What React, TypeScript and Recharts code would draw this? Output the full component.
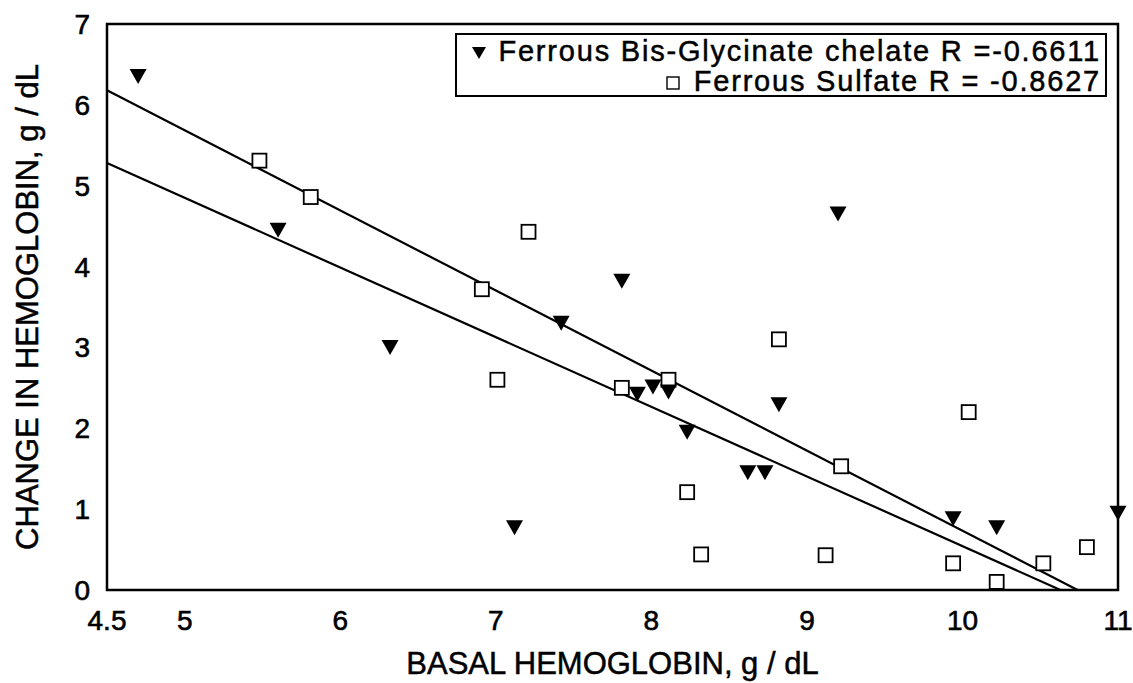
import React from 'react';
import {
  ScatterChart,
  Scatter,
  XAxis,
  YAxis,
  ReferenceLine,
  ReferenceArea,
  Legend
} from 'recharts';

// Ferrous Bis-Glycinate chelate (filled down triangles)
const glycX = [4.7, 5.6, 6.32, 7.12, 7.42, 7.81, 7.91, 8.01, 8.11, 8.23, 8.82, 8.62, 8.73, 9.2, 9.94, 10.22, 11.0];
const glycY = [6.35, 4.45, 3.0, 0.77, 3.3, 3.82, 2.42, 2.51, 2.45, 1.95, 2.29, 1.45, 1.45, 4.65, 0.88, 0.77, 0.95];

// Ferrous Sulfate (open squares)
const sulfX = [5.48, 5.81, 6.91, 7.01, 7.21, 7.81, 8.11, 8.23, 8.32, 8.82, 9.22, 9.12, 10.04, 9.94, 10.22, 10.52, 10.8];
const sulfY = [5.31, 4.86, 3.72, 2.6, 4.43, 2.5, 2.6, 1.21, 0.44, 3.1, 1.53, 0.43, 2.2, 0.33, 0.1, 0.33, 0.53];

// regression line end points
const fitSulfate = [{ x: 4.5, y: 6.18 }, { x: 10.74, y: 0 }];
const fitGlycinate = [{ x: 4.5, y: 5.28 }, { x: 10.63, y: 0 }];

const xTicks = [4.5, 5, 6, 7, 8, 9, 10, 11];
const yTicks = [0, 1, 2, 3, 4, 5, 6, 7];

const legendLabels = [
  'Ferrous Bis-Glycinate chelate R =-0.6611',
  'Ferrous Sulfate R = -0.8627'
];

const FONT = '"Liberation Sans", Arial, sans-serif';

const glycData = glycX.map((x, i) => ({ x, y: glycY[i] }));
const sulfData = sulfX.map((x, i) => ({ x, y: sulfY[i] }));

const DownTriangle = (props: any) => {
  const { cx, cy } = props;
  const w = 8.5;
  const h = 7.5;
  return <polygon points={`${cx - w},${cy - h} ${cx + w},${cy - h} ${cx},${cy + h}`} fill="#000" />;
};

const OpenSquare = (props: any) => {
  const { cx, cy } = props;
  const s = 7;
  return <rect x={cx - s} y={cy - s} width={2 * s} height={2 * s} fill="#fff" stroke="#000" strokeWidth={1.8} />;
};

const LegendBox = () => (
  <div
    style={{
      border: '2px solid #000',
      background: '#fff',
      fontFamily: FONT,
      fontSize: 29,
      letterSpacing: 1.8,
      color: '#000',
      textAlign: 'right',
      padding: '1px 4px 0px 6px',
      lineHeight: '30px',
      boxSizing: 'border-box',
      height: '100%',
      WebkitTextStroke: '0.5px #000'
    }}
  >
    <div>
      <svg width={18} height={18} style={{ marginRight: 10, verticalAlign: 'middle' }}>
        <polygon points="2,3 16,3 9,15" fill="#000" />
      </svg>
      {legendLabels[0]}
    </div>
    <div>
      <svg width={18} height={18} style={{ marginRight: 12, verticalAlign: 'middle' }}>
        <rect x={3} y={3} width={12} height={12} fill="#fff" stroke="#000" strokeWidth={1.4} />
      </svg>
      {legendLabels[1]}
    </div>
  </div>
);

const YTitle = (props: any) => {
  const vb = props.viewBox;
  const cy = vb.y + vb.height / 2;
  return (
    <text
      x={27}
      y={cy}
      transform={`rotate(-90, 27, ${cy})`}
      textAnchor="middle"
      dominantBaseline="central"
      fontFamily={FONT}
      fontSize={31}
      fill="#000"
      stroke="#000"
      strokeWidth={0.5}
    >
      CHANGE IN HEMOGLOBIN, g / dL
    </text>
  );
};

const XTitle = (props: any) => {
  const vb = props.viewBox;
  return (
    <text
      x={vb.x + vb.width / 2}
      y={674}
      textAnchor="middle"
      fontFamily={FONT}
      fontSize={31}
      fill="#000"
      stroke="#000"
      strokeWidth={0.5}
    >
      BASAL HEMOGLOBIN, g / dL
    </text>
  );
};

const tickStyle = { fill: '#000', fontSize: 28, fontFamily: FONT, stroke: '#000', strokeWidth: 0.6 };

export default function App() {
  return (
    <div style={{ position: 'absolute', left: 0, top: 0, width: 1133, height: 683, background: '#fff' }}>
      <ScatterChart width={1133} height={683} margin={{ top: 24, right: 15, bottom: 0, left: 0 }}>
        <XAxis
          type="number"
          dataKey="x"
          domain={[4.5, 11]}
          ticks={xTicks}
          interval={0}
          height={93}
          axisLine={false}
          tickLine={false}
          tickSize={6}
          tickMargin={14}
          tick={tickStyle}
          label={<XTitle />}
          allowDecimals
        />
        <YAxis
          type="number"
          dataKey="y"
          domain={[0, 7]}
          ticks={yTicks}
          interval={0}
          width={107}
          axisLine={false}
          tickLine={false}
          tickSize={6}
          tickMargin={11}
          tick={tickStyle}
          label={<YTitle />}
        />
        <ReferenceArea x1={4.5} x2={11} y1={0} y2={7} fill="none" stroke="#000" strokeWidth={2.5} fillOpacity={0} />
        <ReferenceLine segment={fitSulfate} stroke="#000" strokeWidth={2.2} />
        <ReferenceLine segment={fitGlycinate} stroke="#000" strokeWidth={2.2} />
        <Scatter data={sulfData} shape={<OpenSquare />} isAnimationActive={false} />
        <Scatter data={glycData} shape={<DownTriangle />} isAnimationActive={false} />
        <Legend
          layout="horizontal"
          verticalAlign="middle"
          align="center"
          content={<LegendBox />}
          wrapperStyle={{ left: 455, top: 33, width: 652, height: 64 }}
        />
      </ScatterChart>
    </div>
  );
}
